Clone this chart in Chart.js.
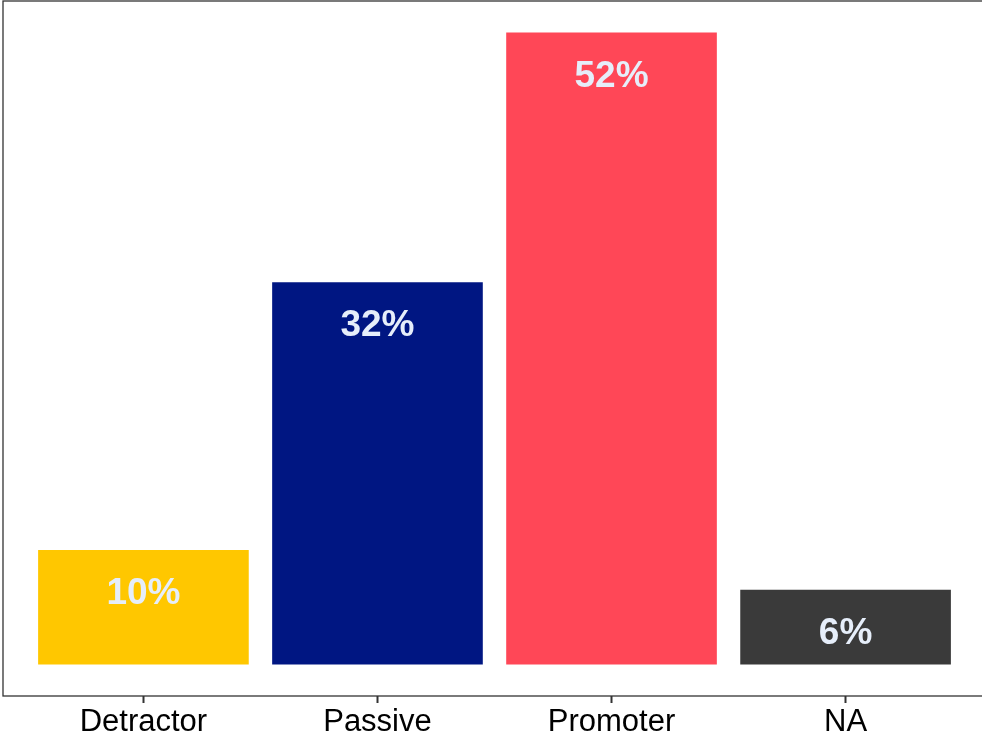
<!DOCTYPE html>
<html lang="en">
<head>
<meta charset="utf-8" />
<title>NPS categories</title>
<script src="https://cdn.jsdelivr.net/npm/chart.js@4.4.1/dist/chart.umd.min.js"></script>
<style>
  html, body { margin: 0; padding: 0; background: #fff; overflow: hidden; }
  canvas { display: block; }
</style>
</head>
<body>
<canvas id="c" width="986" height="738"></canvas>
<script>
// values (share of responses, %)
const categories = ['Detractor', 'Passive', 'Promoter', 'NA'];
const shares = [9.5, 31.75, 52.5, 6.2];
const shareLabels = ['10%', '32%', '52%', '6%'];
const barColors = ['#FFC700', '#001682', '#FF4757', '#3A3A3A'];

// panel border like the ggplot theme
const panelBorder = {
  id: 'panelBorder',
  afterDraw(chart) {
    const { ctx, chartArea: a } = chart;
    ctx.save();
    ctx.strokeStyle = '#333333';
    ctx.lineWidth = 1.3;
    ctx.strokeRect(a.left, a.top, a.right - a.left, a.bottom - a.top);
    ctx.restore();
  }
};

// percentage labels inside the top of each bar
const barLabels = {
  id: 'barLabels',
  afterDatasetsDraw(chart) {
    const { ctx } = chart;
    const meta = chart.getDatasetMeta(0);
    ctx.save();
    ctx.font = 'bold 37px "Liberation Sans", Arial, sans-serif';
    ctx.fillStyle = '#E6EEFA';
    ctx.textAlign = 'center';
    ctx.textBaseline = 'alphabetic';
    meta.data.forEach((bar, i) => {
      ctx.fillText(shareLabels[i], bar.x, bar.y + 54);
    });
    ctx.restore();
  }
};

new Chart(document.getElementById('c'), {
  type: 'bar',
  data: {
    datasets: [{
      data: shares.map((v, i) => ({ x: i + 1, y: v })),
      backgroundColor: barColors,
      borderWidth: 0,
      barPercentage: 0.9,
      categoryPercentage: 1.0
    }]
  },
  options: {
    responsive: false,
    animation: false,
    layout: { padding: { left: 3, top: 1, right: 0, bottom: -4 } },
    plugins: { legend: { display: false }, tooltip: { enabled: false } },
    scales: {
      x: {
        type: 'linear',
        min: 0.4,
        max: 4.6,
        offset: false,
        afterBuildTicks(scale) {
          scale.ticks = categories.map((c, i) => ({ value: i + 1 }));
        },
        grid: { display: true, offset: false, drawOnChartArea: false, drawTicks: true, tickLength: 7, tickColor: '#333333', tickWidth: 2 },
        border: { display: false },
        ticks: {
          autoSkip: false,
          maxRotation: 0,
          padding: 4,
          color: '#000000',
          font: { family: '"Liberation Sans", Arial, sans-serif', size: 31, lineHeight: 1 },
          callback: (v) => categories[v - 1] ?? ''
        }
      },
      y: {
        display: false,
        min: -2.625,
        max: 55.125
      }
    }
  },
  plugins: [panelBorder, barLabels]
});
</script>
</body>
</html>
